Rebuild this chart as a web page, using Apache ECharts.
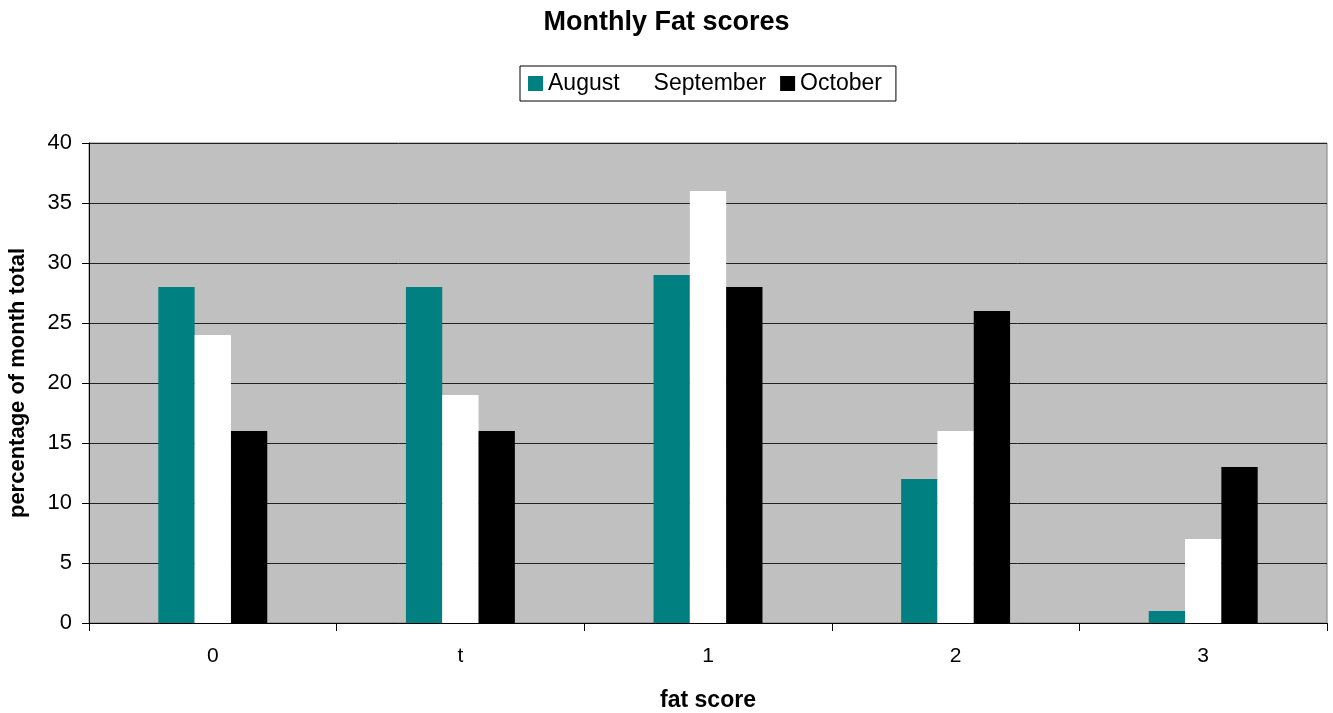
<!DOCTYPE html>
<html>
<head>
<meta charset="utf-8">
<script src="https://cdn.jsdelivr.net/npm/echarts@6/dist/echarts.min.js"></script>
<style>
  html, body { margin: 0; padding: 0; background: #fff; }
  #chart { width: 1333px; height: 713px; }
</style>
</head>
<body>
<div id="chart"></div>
<script>
  var categories = ['0', 't', '1', '2', '3'];
  var august = [28, 28, 29, 12, 1];
  var september = [24, 19, 36, 16, 7];
  var october = [16, 16, 28, 26, 13];

  var chart = echarts.init(document.getElementById('chart'));
  var font = 'Liberation Sans, Arial, sans-serif';
  chart.setOption({
    animation: false,
    textStyle: { fontFamily: font },
    title: {
      text: 'Monthly Fat scores',
      left: 'center',
      top: 4,
      textStyle: { fontSize: 27, fontWeight: 'bold', color: '#000', fontFamily: font }
    },
    legend: {
      top: 66,
      left: 520,
      icon: 'rect',
      itemWidth: 15,
      itemHeight: 15,
      itemGap: 14,
      padding: [6, 14, 6, 8],
      borderColor: '#000',
      borderWidth: 1,
      textStyle: { fontSize: 23, color: '#000', fontFamily: font },
      data: ['August', 'September', 'October']
    },
    grid: {
      left: 89,
      right: 6,
      top: 143,
      bottom: 90,
      outerBoundsMode: 'none',
      show: true,
      backgroundColor: '#c0c0c0',
      borderColor: '#808080',
      borderWidth: 1
    },
    xAxis: {
      type: 'category',
      data: categories,
      name: 'fat score',
      nameLocation: 'middle',
      nameGap: 66,
      nameTextStyle: { fontSize: 23, fontWeight: 'bold', color: '#000' },
      axisLine: { lineStyle: { color: '#000' } },
      axisTick: { show: true, length: 8, lineStyle: { color: '#000' } },
      axisLabel: { fontSize: 21, color: '#000', margin: 23 }
    },
    yAxis: {
      type: 'value',
      min: 0,
      max: 40,
      interval: 5,
      name: 'percentage of month total',
      nameLocation: 'middle',
      nameGap: 60,
      nameTextStyle: { fontSize: 22, fontWeight: 'bold', color: '#000' },
      axisLine: { show: true, lineStyle: { color: '#000' } },
      axisTick: { show: true, length: 7, lineStyle: { color: '#000' } },
      axisLabel: { fontSize: 22, color: '#000', margin: 17 },
      splitLine: { lineStyle: { color: '#222', width: 1 } }
    },
    series: [
      {
        name: 'August',
        type: 'bar',
        data: august,
        barGap: 0,
        barCategoryGap: '56%',
        itemStyle: { color: '#008080' }
      },
      {
        name: 'September',
        type: 'bar',
        data: september,
        itemStyle: { color: '#ffffff' }
      },
      {
        name: 'October',
        type: 'bar',
        data: october,
        itemStyle: { color: '#000000' }
      }
    ]
  });
</script>
</body>
</html>
